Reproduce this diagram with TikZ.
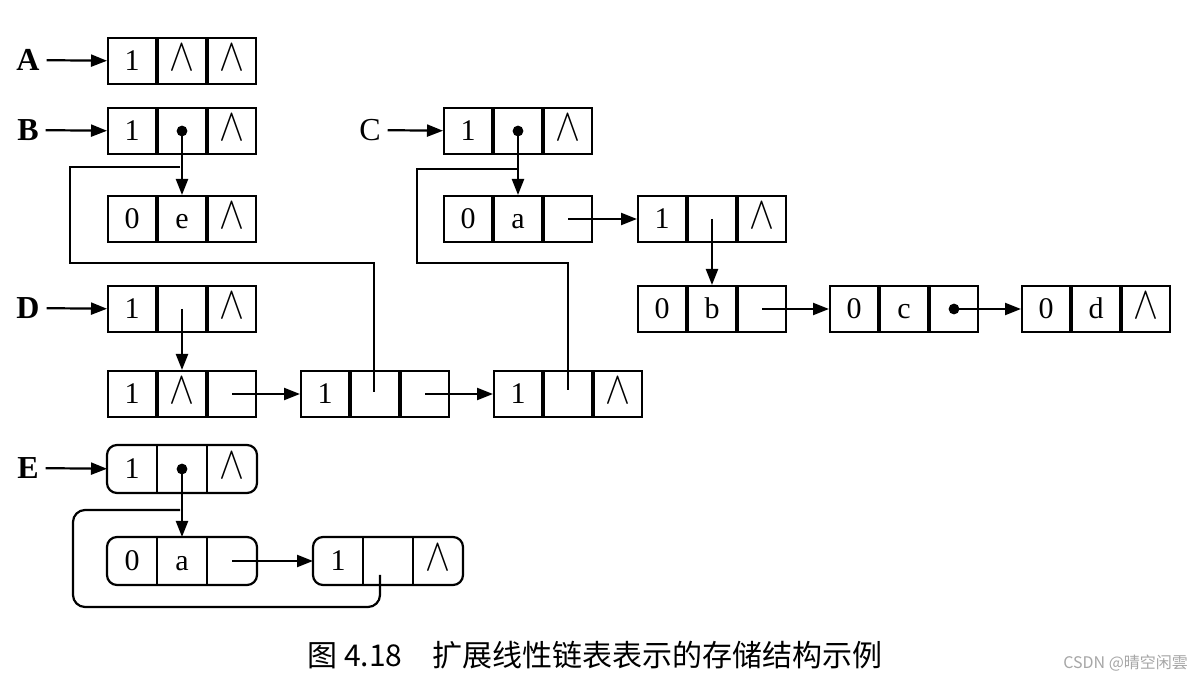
\documentclass[tikz,border=0pt]{standalone}
\usepackage{fontspec}
\setmainfont{Liberation Serif}
\newfontfamily\cjk{Noto Sans CJK SC}
\usetikzlibrary{arrows.meta}
\newcommand\mklist[7][draw]{%
  \node[cell,#1,anchor=north west] (#2a) at (#3,#4) {#5};
  \node[cell,#1,anchor=west] (#2b) at (#2a.east) {#6};
  \node[cell,#1,anchor=west] (#2c) at (#2b.east) {#7};}
\newcommand\nil{\scalebox{1.3}[1.6]{$\wedge$}}
\tikzset{
  cell/.style={minimum width=24pt,minimum height=23pt,inner sep=0pt,text height=10pt,text depth=0pt,font=\fontsize{15}{18}\selectfont,line width=1pt},
  lab/.style={font=\fontsize{16}{18}\selectfont\bfseries},
  ar/.style={line width=1.1pt,-{Triangle[length=8pt,width=6pt]}},
  ln/.style={line width=1.1pt},
}
\newcommand\pdot[1]{\fill (#1.center) circle (2.7pt);}
\begin{document}
\begin{tikzpicture}[x=0.5pt,y=-0.5pt]
\fill[white] (0,0) rectangle (1200,683);
\useasboundingbox (0,0) rectangle (1200,683);
% A
\node[lab] (LA) at (28,60) {A};
\mklist{A}{107}{37}{1}{\nil}{\nil}
\draw[ar] (LA) -- (Aa);
% B
\node[lab] (LB) at (28,130) {B};
\mklist{B}{107}{107}{1}{}{\nil}
\draw[ar] (LB) -- (Ba);
\mklist{Be}{107}{195}{0}{e}{\nil}
\draw[ar] (Bb.center) -- (Beb.north);
\pdot{Bb}
% C
\node[lab,font=\fontsize{16}{18}\selectfont] (LC) at (370,130) {C};
\mklist{C}{443}{107}{1}{}{\nil}
\draw[ar] (LC) -- (Ca);
\mklist{Ca}{443}{195}{0}{a}{}
\draw[ar] (Cb.center) -- (Cab.north);
\pdot{Cb}
\mklist{Cb}{637}{195}{1}{}{\nil}
\draw[ar] (Cac.center) -- (Cba.west);
\mklist{Cc}{637}{285}{0}{b}{}
\draw[ar] (Cbb.center) -- (Ccb.north);
\mklist{Cd}{829}{285}{0}{c}{}
\draw[ar] (Ccc.center) -- (Cda.west);
\mklist{Ce}{1021}{285}{0}{d}{\nil}
\draw[ar] (Cdc.center) -- (Cea.west);
\pdot{Cdc}
% D
\node[lab] (LD) at (28,308) {D};
\mklist{D}{107}{285}{1}{}{\nil}
\draw[ar] (LD) -- (Da);
\mklist{Dd}{107}{370}{1}{\nil}{}
\draw[ar] (Db.center) -- (Ddb.north);
\mklist{Df}{300}{370}{1}{}{}
\draw[ar] (Ddc.center) -- (Dfa.west);
\mklist{Dg}{493}{370}{1}{}{\nil}
\draw[ar] (Dfc.center) -- (Dga.west);
\coordinate (bj) at (180,167);
\coordinate (bt) at (374,392);
\draw[ln] (bj) -| (70,263) -| (bt);
\coordinate (cj) at (517,169);
\coordinate (ct) at (568,390);
\draw[ln] (cj) -| (417,263) -| (ct);
% E
\node[lab] (LE) at (28,468) {E};
\mklist[draw=none]{E}{107}{445}{1}{}{\nil}
\mklist[draw=none]{Ea}{107}{537}{0}{a}{}
\mklist[draw=none]{Eb}{313}{537}{1}{}{\nil}
\foreach \n in {E,Ea,Eb}{
  \draw[line width=1.1pt,rounded corners=5pt] (\n a.north west) rectangle (\n c.south east);
  \draw[line width=1pt] (\n a.north east) -- (\n a.south east) (\n b.north east) -- (\n b.south east);}
\draw[ar] (LE) -- (Ea);
\draw[ar] (Eb.center) -- (Eab.north);
\pdot{Eb}
\draw[ar] (Eac.center) -- (Eba.west);
\coordinate (ej) at (180,510);
\coordinate (et) at (380,575);
\draw[ln,rounded corners=6pt] (ej) -| (73,607) -| (et);
% caption
\node[font=\cjk\fontsize{15}{18}\selectfont] (cap) at (595,655) {图 4.18\quad 扩展线性链表表示的存储结构示例};
\node[font=\cjk\fontsize{8}{10}\selectfont,text=gray!70,anchor=east] (wm) at (1195,663) {CSDN @晴空闲雲};
\end{tikzpicture}
\end{document}
